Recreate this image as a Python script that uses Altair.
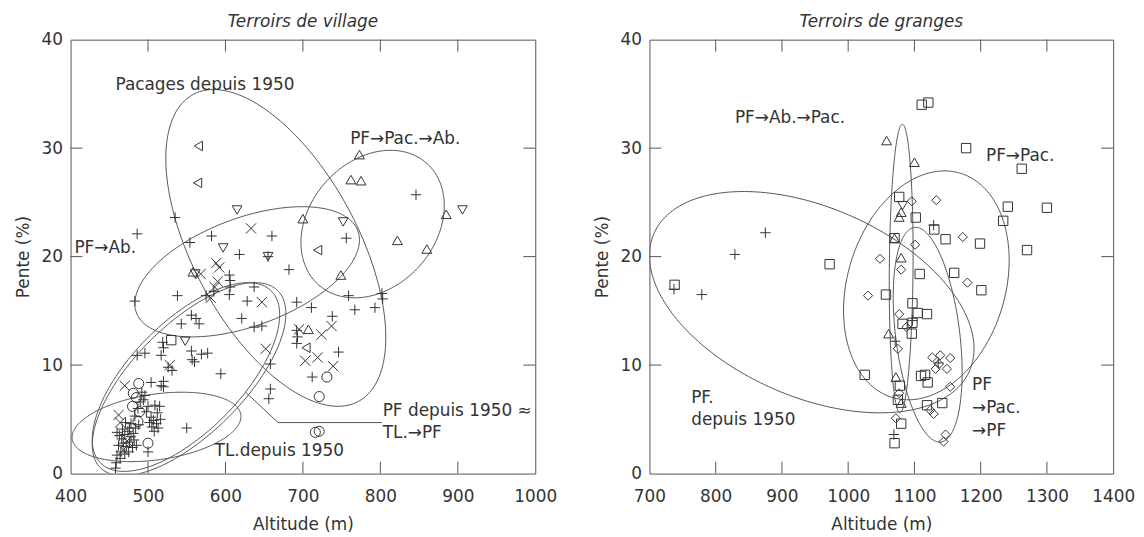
import altair as alt
import numpy as np
import pandas as pd

FONT = "DejaVu Sans"
INK = "#333333"
LINE = "#555555"
FS = 17

# ---------------- Terroirs de village (left panel) ----------------
V_PLUS = [
    (535, 23.6), (486, 22.1), (554, 21.3), (582, 21.9), (660, 21.9), (618, 20.2), (655, 20.0),
    (682, 18.8), (756, 21.7), (846, 25.7), (605, 18.3), (606, 17.8), (606, 17.2), (605, 16.5),
    (637, 17.2), (759, 16.4), (802, 16.6), (803, 16.1), (538, 16.4), (483, 15.9), (575, 16.4),
    (585, 16.8), (628, 15.9), (692, 15.8), (711, 15.3), (767, 15.1), (793, 15.3), (738, 14.5),
    (692, 13.2), (693, 12.6), (692, 12.0), (637, 13.5), (647, 13.6), (621, 14.3), (556, 14.6),
    (562, 14.3), (566, 13.8), (543, 13.8), (519, 12.1), (517, 10.9), (520, 11.6), (556, 11.3),
    (560, 10.3), (557, 10.5), (577, 11.1), (569, 11.0), (486, 10.9), (496, 11.1), (526, 9.8),
    (531, 9.5), (594, 9.2), (746, 11.2), (712, 8.9), (658, 10.1), (658, 7.8), (656, 6.9),
    (550, 4.2),
    (520, 8.5), (520, 8.0), (504, 8.4), (517, 8.1), (492, 7.5), (496, 7.2), (494, 6.8),
    (500, 6.2), (509, 6.3), (515, 6.2), (498, 5.7), (504, 5.2), (507, 4.9), (511, 4.6),
    (505, 4.3), (513, 4.2), (508, 3.9), (502, 4.7), (512, 5.6), (516, 5.0), (500, 2.0),
    (460, 3.8), (463, 3.5), (466, 3.2), (470, 3.6), (474, 3.9), (478, 3.4), (482, 3.1),
    (484, 4.2), (468, 2.8), (472, 2.5), (476, 2.9), (480, 2.4), (462, 2.6), (465, 2.0),
    (470, 1.8), (475, 2.0), (460, 1.7), (459, 1.0), (458, 0.5), (464, 1.4), (478, 4.6),
    (483, 5.3), (487, 6.0), (490, 6.6), (476, 4.2), (481, 3.7), (485, 2.6), (467, 4.1),
    (471, 4.7), (488, 4.5),
]
V_CROSS = [
    (633, 22.6), (588, 19.4), (592, 19.0), (586, 17.2), (590, 17.7), (581, 16.2), (647, 15.8),
    (737, 13.6), (724, 12.8), (695, 13.3), (703, 10.4), (719, 10.7), (739, 9.9), (652, 11.5),
    (528, 10.0), (470, 8.1), (462, 5.4), (464, 4.7), (473, 3.0), (468, 2.2), (568, 18.4),
]
V_CIRCLE = [
    (731, 8.9), (721, 7.1), (716, 3.8), (721, 3.9), (488, 8.3), (485, 7.0), (481, 7.4),
    (480, 6.2), (489, 5.7), (487, 4.8), (500, 2.8),
]
V_TRI_UP = [
    (773, 29.4), (762, 27.1), (775, 27.0), (700, 23.5), (885, 23.9), (822, 21.5), (860, 20.7),
    (749, 18.3), (558, 18.6), (707, 13.3),
]
V_TRI_DOWN = [(615, 24.3), (597, 20.8), (655, 20.0), (752, 23.2), (906, 24.3), (561, 18.4), (548, 12.2)]
V_TRI_LEFT = [(565, 30.2), (564, 26.8), (719, 20.6), (704, 11.6)]
V_SQUARE = [(530, 12.3)]

# ellipses: name, centre altitude, centre slope, half-range altitude, half-range slope, correlation
V_ELLIPSES = [
    ("pacages", 665, 20.8, 142, 14.6, -0.565),
    ("pf_pac_ab", 790, 23.0, 92.5, 6.8, 0.25),
    ("pf_ab", 628, 18.6, 145, 6.0, 0.49),
    ("pf_1950", 549, 8.9, 121, 8.7, 0.66),
    ("tl_pf", 553, 8.7, 125, 8.9, 0.68),
    ("tl_1950", 511, 4.3, 109, 3.2, 0.30),
]
V_LEADER_X = [626, 668, 802]
V_LEADER_Y = [7.5, 4.7, 4.7]
V_LABELS = [
    ("Pacages depuis 1950", 458, 35.8),
    ("PF\u2192Pac.\u2192Ab.", 761, 30.8),
    ("PF\u2192Ab.", 405, 20.8),
    ("PF depuis 1950 \u2248", 803, 5.8),
    ("TL.\u2192PF", 803, 3.7),
    ("TL.depuis 1950", 586, 2.1),
]
V_XLABELS = [400, 500, 600, 700, 800, 900, 1000]
V_XTICKS = [500, 600, 700, 800, 900]

# ---------------- Terroirs de granges (right panel) ----------------
G_SQUARE = [
    (1111, 34.0), (1121, 34.2), (1178, 30.0), (1262, 28.1), (1077, 25.5), (1241, 24.6),
    (1300, 24.5), (1102, 23.6), (1234, 23.3), (1130, 22.5), (1070, 21.7), (1147, 21.6),
    (1199, 21.2), (1270, 20.6), (972, 19.3), (1108, 18.4), (1160, 18.5), (1201, 16.9),
    (1057, 16.5), (1097, 15.7), (1105, 14.8), (1119, 14.7), (1082, 13.8), (1097, 13.9),
    (1096, 12.9), (1025, 9.1), (1110, 9.0), (1116, 9.1), (1120, 8.4), (1078, 8.1),
    (1075, 6.8), (1119, 6.3), (1142, 6.5), (1080, 4.6), (1070, 2.8), (738, 17.4),
]
G_DIAMOND = [
    (1096, 25.1), (1133, 25.2), (1173, 21.8), (1101, 21.1), (1048, 19.8), (1080, 18.8),
    (1180, 17.6), (1030, 16.4), (1077, 14.7), (1075, 11.5), (1127, 10.7), (1139, 10.9),
    (1154, 10.65), (1137, 10.1), (1149, 9.65), (1132, 9.65), (1154, 8.0), (1077, 7.4),
    (1124, 5.85), (1129, 5.5), (1072, 5.1), (1147, 3.6), (1144, 2.95), (1088, 13.5),
]
G_TRI_UP = [
    (1058, 30.7), (1100, 28.7), (1077, 23.65), (1080, 24.1), (1070, 21.7), (1080, 19.9),
    (1061, 12.9), (1072, 8.9), (1080, 6.5),
]
G_TRI_DOWN = [(1082, 24.7)]
G_PLUS = [
    (1129, 22.9), (875, 22.2), (829, 20.2), (737, 17.0), (779, 16.5), (1097, 14.1),
    (1071, 12.2), (1136, 10.2), (1069, 3.6),
]
G_ELLIPSES = [
    ("pf_1950", 945, 15.8, 245, 10.2, -0.42),
    ("pf_ab_pac", 1080, 18.9, 18, 13.3, 0.10),
    ("pf_pac", 1118, 17.35, 125, 10.55, 0.22),
    ("pf_pac_pf", 1120, 12.8, 52, 9.9, -0.35),
]
G_LABELS = [
    ("PF\u2192Ab.\u2192Pac.", 829, 32.8),
    ("PF\u2192Pac.", 1208, 29.3),
    ("PF.", 763, 6.95),
    ("depuis 1950", 763, 4.95),
    ("PF", 1187, 8.2),
    ("\u2192Pac.", 1187, 6.0),
    ("\u2192PF", 1187, 3.9),
]
G_XLABELS = [700, 800, 900, 1000, 1100, 1200, 1300, 1400]
G_XTICKS = [800, 900, 1000, 1100, 1200, 1300]

Y_LABELS = [0, 10, 20, 30, 40]
Y_TICKS = [10, 20, 30]

# ---------------- marker styles ----------------
PLUS_PATH = "M-1,0L1,0M0,-1L0,1"
CROSS_PATH = "M-1,-1L1,1M-1,1L1,-1"
SHAPE_DOMAIN = ["plus", "cross", "circle", "tri_up", "tri_down", "tri_left", "square", "diamond"]
SHAPE_RANGE = [PLUS_PATH, CROSS_PATH, "circle", "triangle-up", "triangle-down", "triangle-left", "square", "diamond"]
SIZE_RANGE = [110, 85, 70, 75, 75, 75, 80, 115]


def points_df(groups):
    rows = []
    for kind, pts in groups:
        for x, y in pts:
            rows.append({"x": x, "y": y, "kind": kind})
    return pd.DataFrame(rows)


def ellipse_df(ellipses, n=240):
    frames = []
    t = np.linspace(0, 2 * np.pi, n)
    for name, cx, cy, hx, hy, rho in ellipses:
        x = cx + hx * np.cos(t)
        y = cy + hy * (rho * np.cos(t) + np.sqrt(1 - rho ** 2) * np.sin(t))
        frames.append(pd.DataFrame({"x": x, "y": y, "name": name, "i": np.arange(n)}))
    return pd.concat(frames, ignore_index=True)


def panel(title, pts, ellipses, labels, xdom, xlabels, xticks, width, height, leader=None):
    xs = alt.Scale(domain=xdom, nice=False, zero=False)
    ys = alt.Scale(domain=[0, 40], nice=False, zero=False)
    xaxis = alt.Axis(values=xlabels, title="Altitude (m)", format="d", labelPadding=15, titlePadding=12)
    yaxis = alt.Axis(values=Y_LABELS, title="Pente (%)", format="d", labelPadding=8, titlePadding=9)

    def X():
        return alt.X("x:Q", scale=xs, axis=xaxis)

    def Y():
        return alt.Y("y:Q", scale=ys, axis=yaxis)

    ell = alt.Chart(ellipse_df(ellipses)).mark_line(
        color=LINE, strokeWidth=1, clip=True
    ).encode(x=X(), y=Y(), detail="name:N", order="i:Q")

    pts_layer = alt.Chart(pts).mark_point(
        filled=False, strokeWidth=1, opacity=1, color=INK
    ).encode(
        x=X(), y=Y(),
        shape=alt.Shape("kind:N", scale=alt.Scale(domain=SHAPE_DOMAIN, range=SHAPE_RANGE), legend=None),
        size=alt.Size("kind:N", scale=alt.Scale(domain=SHAPE_DOMAIN, range=SIZE_RANGE), legend=None),
    )

    lab = pd.DataFrame(labels, columns=["label", "x", "y"])
    txt = alt.Chart(lab).mark_text(
        align="left", baseline="middle", font=FONT, fontSize=FS, color=INK
    ).encode(x=X(), y=Y(), text="label:N")

    xt = pd.DataFrame({"x": xticks})
    yt = pd.DataFrame({"y": Y_TICKS})
    tick_len = 12
    t_top = alt.Chart(xt).mark_rule(color=LINE, strokeWidth=1).encode(
        x=X(), y=alt.value(0), y2=alt.value(tick_len))
    t_bot = alt.Chart(xt).mark_rule(color=LINE, strokeWidth=1).encode(
        x=X(), y=alt.value(height), y2=alt.value(height - tick_len))
    t_left = alt.Chart(yt).mark_rule(color=LINE, strokeWidth=1).encode(
        y=Y(), x=alt.value(0), x2=alt.value(tick_len))
    t_right = alt.Chart(yt).mark_rule(color=LINE, strokeWidth=1).encode(
        y=Y(), x=alt.value(width), x2=alt.value(width - tick_len))

    layers = [ell, pts_layer, txt, t_top, t_bot, t_left, t_right]
    if leader is not None:
        ld = pd.DataFrame({"x": leader[0], "y": leader[1], "i": range(len(leader[0]))})
        layers.append(alt.Chart(ld).mark_line(color=LINE, strokeWidth=1).encode(
            x=X(), y=Y(), order="i:Q"))

    return alt.layer(*layers).properties(
        width=width, height=height,
        title=alt.TitleParams(title, font=FONT, fontSize=FS, fontStyle="italic",
                              fontWeight="normal", color=INK, offset=0, anchor="middle"),
    )


left_pts = points_df([
    ("plus", V_PLUS), ("cross", V_CROSS), ("circle", V_CIRCLE), ("tri_up", V_TRI_UP),
    ("tri_down", V_TRI_DOWN), ("tri_left", V_TRI_LEFT), ("square", V_SQUARE),
])
right_pts = points_df([
    ("square", G_SQUARE), ("diamond", G_DIAMOND), ("tri_up", G_TRI_UP),
    ("tri_down", G_TRI_DOWN), ("plus", G_PLUS),
])

left = panel("Terroirs de village", left_pts, V_ELLIPSES, V_LABELS, [400, 1000],
             V_XLABELS, V_XTICKS, 468, 437, leader=(V_LEADER_X, V_LEADER_Y))
right = panel("Terroirs de granges", right_pts, G_ELLIPSES, G_LABELS, [700, 1400],
              G_XLABELS, G_XTICKS, 467, 437)

chart = alt.hconcat(left, right, spacing=115, bounds="flush").properties(
    padding={"left": 5, "top": 2, "right": 0, "bottom": 2}
).configure_view(
    stroke=LINE, strokeWidth=1
).configure_axis(
    labelFont=FONT, labelFontSize=FS, labelColor=INK,
    titleFont=FONT, titleFontSize=FS, titleColor=INK, titleFontWeight="normal",
    domain=False, ticks=False, grid=False, labelFlush=False, labelOverlap=False,
)

chart.save("out.html", embed_options={"renderer": "svg", "actions": False})
